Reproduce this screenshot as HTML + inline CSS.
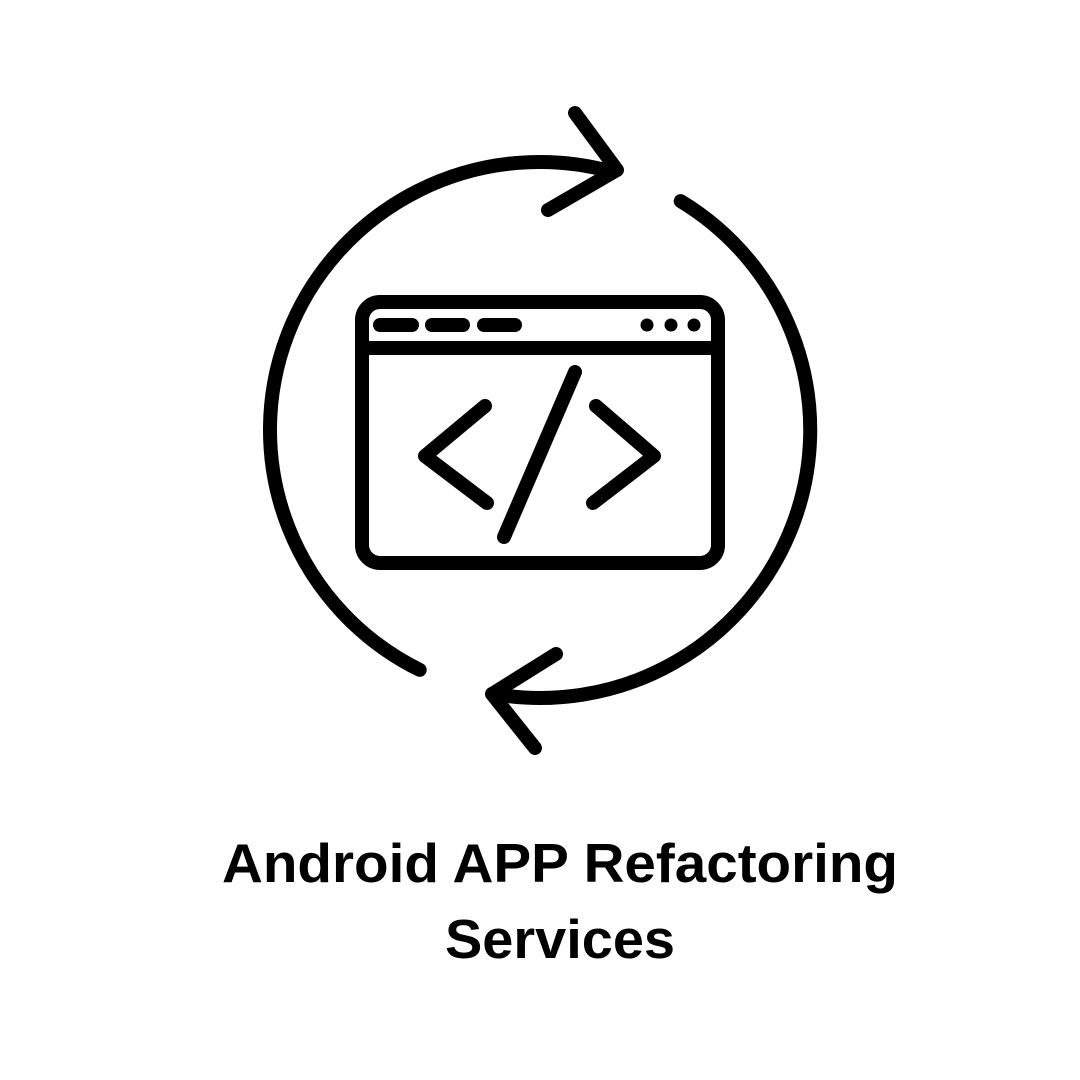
<!DOCTYPE html>
<html><head><meta charset="utf-8"><style>html,body{margin:0;padding:0;background:#fff}svg{display:block}</style></head>
<body>
<svg width="1080" height="1080" viewBox="0 0 1080 1080" xmlns="http://www.w3.org/2000/svg">
<g fill="none" stroke="#000" stroke-width="14" stroke-linecap="round" stroke-linejoin="round">
<path d="M419.7 669.9 A270 268 0 0 1 612.1 171.7"/>
<path d="M680.7 201.1 A270 268 0 0 1 492.2 693.7"/>
<path d="M575 113 L617 170 L548 210"/>
<path d="M556 654 L492 694 L535 748"/>
<rect x="362" y="302" width="356" height="261" rx="18"/>
<line x1="362" y1="348" x2="718" y2="348"/>
<line x1="380" y1="325" x2="412" y2="325"/>
<line x1="432" y1="325" x2="463" y2="325"/>
<line x1="484" y1="325" x2="515" y2="325"/>
<path d="M485 406 L425 456 L487 503"/>
<path d="M575 372 L504 537"/>
<path d="M596 406 L654 456 L593 503"/>
</g>
<g fill="#000"><circle cx="647" cy="325" r="6.5"/><circle cx="671" cy="325" r="6.5"/><circle cx="694" cy="325" r="6.5"/></g>
<g font-family="Liberation Sans, sans-serif" font-weight="bold" font-size="55" fill="#000">
<text x="222" y="882" textLength="676" lengthAdjust="spacingAndGlyphs">Android APP Refactoring</text>
<text x="445" y="958" textLength="230" lengthAdjust="spacingAndGlyphs">Services</text>
</g>
</svg>
</body></html>
